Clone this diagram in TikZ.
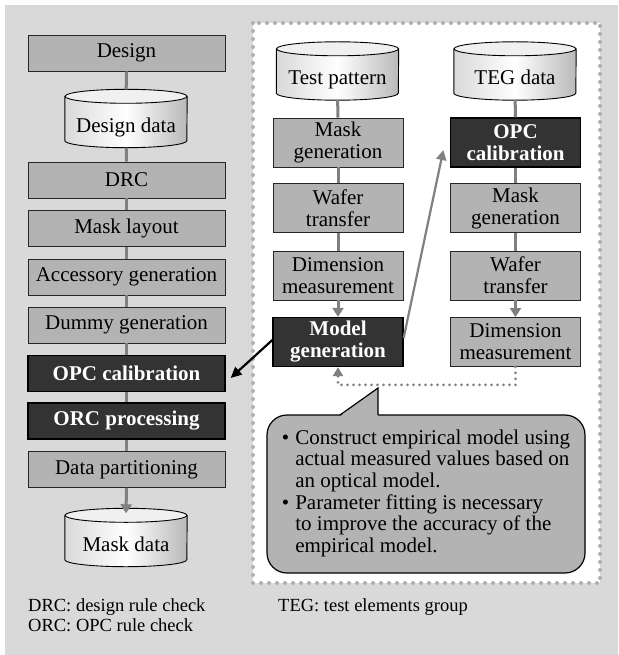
\documentclass[tikz,border=0pt]{standalone}
\usepackage{fontspec}
\setmainfont{Liberation Serif}
\usetikzlibrary{arrows.meta,calc}
\definecolor{pagebg}{HTML}{D9D9D9}
\definecolor{boxgray}{HTML}{B3B3B3}
\definecolor{darkfill}{HTML}{333333}
\definecolor{conn}{HTML}{808080}
\definecolor{dotc}{HTML}{B0B0B0}
\pgfdeclarelayer{backlayer}
\pgfsetlayers{backlayer,main}
\newcommand\dbcylinder[1]{%
  \begin{pgfonlayer}{backlayer}
  \shade[left color=gray!30,right color=gray!55,middle color=white]
    ([yshift=-7pt]#1.north west) -- ([yshift=7pt]#1.south west)
    arc[start angle=180,end angle=360,x radius=61pt,y radius=7pt]
    -- ([yshift=-7pt]#1.north east) -- cycle;
  \draw[line width=0.9pt,fill=gray!12] ([yshift=-7pt]#1.north) ellipse[x radius=61pt,y radius=7pt];
  \draw[line width=0.9pt] ([yshift=-7pt]#1.north west) -- ([yshift=7pt]#1.south west)
    arc[start angle=180,end angle=360,x radius=61pt,y radius=7pt]
    -- ([yshift=-7pt]#1.north east);
  \end{pgfonlayer}}
\begin{document}
\begin{tikzpicture}[x=1pt,y=-1pt,
  labelfont/.style={font=\fontsize{21}{22}\selectfont},
  stepbox/.style={rectangle,draw=black!85,line width=0.9pt,fill=boxgray,
    minimum width=197pt,minimum height=36pt,inner sep=0pt,align=center,labelfont},
  darkbox/.style={stepbox,fill=darkfill,draw=black,line width=1.3pt,text=white,
    font=\fontsize{21}{22}\selectfont\bfseries},
  rbox/.style={stepbox,minimum width=130pt,minimum height=49pt},
  rdark/.style={darkbox,minimum width=130pt,minimum height=49pt},
  cylnode/.style={rectangle,inner sep=0pt,minimum width=122pt,minimum height=58pt,
    text height=28pt,text depth=0pt,labelfont},
  link/.style={draw=conn,line width=3pt},
  linkarrow/.style={link,-{Triangle[width=11pt,length=9pt]}},
  noteline/.style={anchor=base west,inner sep=0pt,font=\fontsize{18.5}{19}\selectfont}
]
\useasboundingbox (0,0) rectangle (618,655);
\begin{pgfonlayer}{backlayer}
  \fill[white] (0,0) rectangle (618,655);
  \fill[pagebg] (5,5) rectangle (618,655);
  \fill[white] (253,23) rectangle (600,583);
  \draw[dotc,line width=4pt,line cap=round,dash pattern=on 0pt off 8pt] (253,23) rectangle (600,583);
\end{pgfonlayer}

% left column
\node[stepbox] (design) at (126.5,53) {Design};
\node[cylnode] (ddata) at (126,118.5) {Design data};
\node[stepbox] (drc) at (126.5,180) {DRC};
\node[stepbox] (mlay) at (126.5,228.5) {Mask layout};
\node[stepbox] (acc) at (126.5,277) {Accessory generation};
\node[stepbox] (dummy) at (126.5,325) {Dummy generation};
\node[darkbox] (opcL) at (126.5,373.5) {OPC calibration};
\node[darkbox] (orc) at (126.5,421) {ORC processing};
\node[stepbox] (dpart) at (126.5,469.5) {Data partitioning};
\node[cylnode] (mdata) at (126,537.5) {Mask data};
\dbcylinder{ddata}
\dbcylinder{mdata}

% right part
\node[cylnode] (tpat) at (337.5,71) {Test pattern};
\node[cylnode] (teg) at (515,71) {TEG data};
\dbcylinder{tpat}
\dbcylinder{teg}
\node[rbox] (mgenA) at (338,142.5) {Mask\\generation};
\node[rbox] (wtA) at (338,208) {Wafer\\transfer};
\node[rbox] (dmA) at (338,275.5) {Dimension\\measurement};
\node[rdark] (model) at (338,342) {Model\\generation};
\node[rdark] (opcR) at (515.5,142.5) {OPC\\calibration};
\node[rbox] (mgenB) at (515.5,208) {Mask\\generation};
\node[rbox] (wtB) at (515.5,275.5) {Wafer\\transfer};
\node[rbox] (dmB) at (515.5,342) {Dimension\\measurement};

% connectors left
\draw[link] (design) -- (ddata);
\draw[link] (ddata) -- (drc);
\draw[link] (drc) -- (mlay);
\draw[link] (mlay) -- (acc);
\draw[link] (acc) -- (dummy);
\draw[link] (dummy) -- (opcL);
\draw[link] (opcL) -- (orc);
\draw[link] (orc) -- (dpart);
\draw[linkarrow] (dpart.south) -- ([yshift=-5pt]mdata.north);

% connectors right
\draw[link] (tpat) -- (mgenA);
\draw[link] (mgenA) -- (wtA);
\draw[link] (wtA) -- (dmA);
\draw[linkarrow] (dmA.south) -- (model.north);
\draw[link] (teg) -- (opcR);
\draw[link] (opcR) -- (mgenB);
\draw[link] (mgenB) -- (wtB);
\draw[linkarrow] (wtB.south) -- (dmB.north);

\draw[draw=conn,line width=2.2pt,-{Triangle[width=10pt,length=10pt]}]
  ([yshift=4pt]model.east) -- ([xshift=-6.5pt,yshift=-7.5pt]opcR.west);
\draw[draw=black,line width=2.2pt,-{Triangle[width=10pt,length=11pt]}]
  ([yshift=2pt]model.west) -- ([xshift=5pt,yshift=-4.5pt]opcL.east);
\draw[draw=conn,line width=3pt,line cap=round,dash pattern=on 0pt off 6pt,
  -{Triangle[width=10pt,length=9pt]}]
  (dmB.south) -- ++(0,18) -| (model.south);

% callout
\node[rectangle,rounded corners=20pt,draw=black,line width=1.2pt,fill=boxgray,
  minimum width=318pt,minimum height=158pt,inner sep=0pt,
  font=\fontsize{21}{21.7}\selectfont] (callout) at (426,494)
  {\begin{tabular}{@{}l@{\hspace{6pt}}l@{}}
   \textbullet & Construct empirical model using\\
   & actual measured values based on\\
   & an optical model.\\
   \textbullet & Parameter fitting is necessary\\
   & to improve the accuracy of the\\
   & empirical model.
   \end{tabular}};
\coordinate (ptip) at (378,388);
\coordinate (pbA) at (340,415);
\coordinate (pbB) at (378,415);
\fill[boxgray] ($(pbA)+(0,1.2)$) -- (ptip) -- ($(pbB)+(0,1.2)$) -- cycle;
\draw[black,line width=1.2pt] (pbA) -- (ptip) -- (pbB);

% notes
\node[noteline] (noteA) at (28,611.7) {DRC: design rule check};
\node[noteline] (noteB) at (28,631.7) {ORC: OPC rule check};
\node[noteline] (noteC) at (278,611.7) {TEG: test elements group};
\end{tikzpicture}
\end{document}
